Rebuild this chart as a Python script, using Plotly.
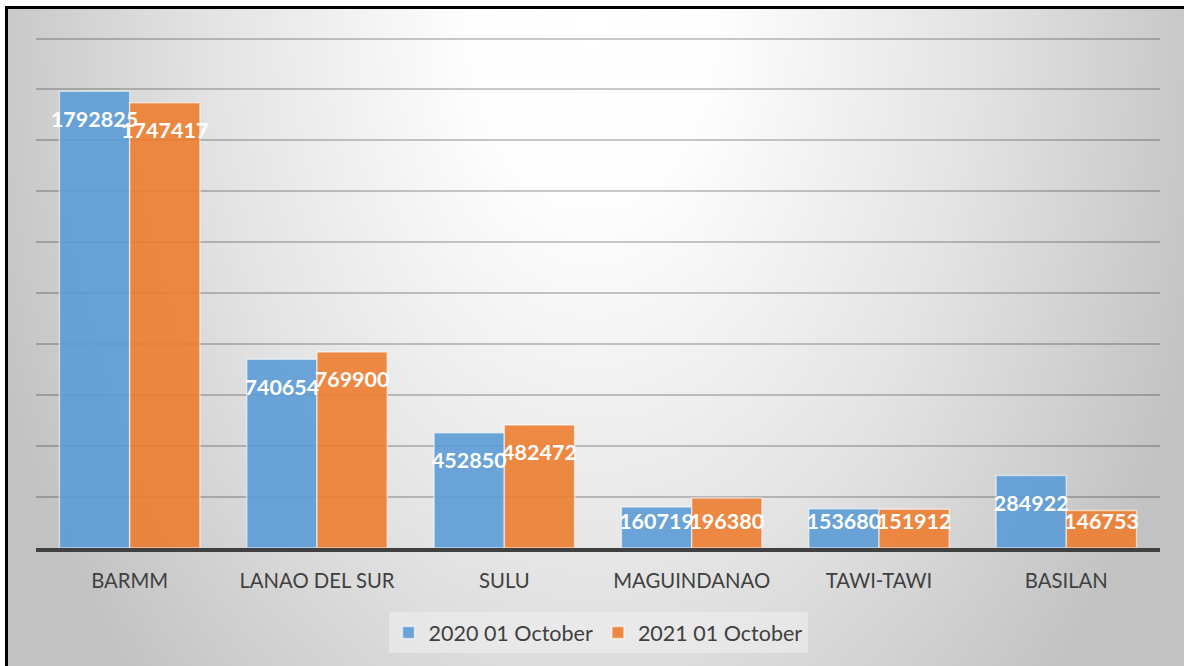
import base64
import plotly.graph_objects as go

# ---- data ----
categories = ["BARMM", "LANAO DEL SUR", "SULU", "MAGUINDANAO", "TAWI-TAWI", "BASILAN"]
series_names = ["2020 01 October", "2021 01 October"]
values_2020 = [1792825, 740654, 452850, 160719, 153680, 284922]
values_2021 = [1747417, 769900, 482472, 196380, 151912, 146753]

# ---- style ----
W, H = 1184, 666
ML, MR, MT, MB = 36, 24, 37, 118
PW, PH = W - ML - MR, H - MT - MB
Y_MAX = 2000000
LABEL_FLOOR = 212000  # keep labels inside short bars
BLUE = "rgba(91,155,213,0.9)"
ORANGE = "rgba(237,125,49,0.9)"
FONT = "Lato"

svg = f'''<svg xmlns="http://www.w3.org/2000/svg" width="{W}" height="{H}" viewBox="0 0 {W} {H}" preserveAspectRatio="none">
<defs><radialGradient id="g" gradientUnits="userSpaceOnUse" cx="592" cy="20" r="640"
 gradientTransform="translate(592 20) scale(1 1.5) translate(-592 -20)">
<stop offset="0" stop-color="#ffffff"/><stop offset="0.2" stop-color="#fdfdfd"/>
<stop offset="0.6" stop-color="#e3e3e3"/><stop offset="1" stop-color="#c2c2c2"/></radialGradient></defs>
<rect x="0" y="0" width="{W}" height="{H}" fill="#ffffff"/>
<rect x="6.5" y="7.5" width="{W + 20}" height="{H + 20}" fill="url(#g)" stroke="#000000" stroke-width="3"/>
</svg>'''
bg_uri = "data:image/svg+xml;base64," + base64.b64encode(svg.encode()).decode()

fig = go.Figure()
for name, vals, col, grp in [(series_names[0], values_2020, BLUE, "a"),
                             (series_names[1], values_2021, ORANGE, "b")]:
    fig.add_trace(go.Bar(
        x=categories, y=vals, name=name, offsetgroup=grp,
        marker=dict(color=col, line=dict(color="rgba(255,255,255,0.55)", width=1.5)),
        hoverinfo="skip",
    ))
for name, vals, grp in [(series_names[0], values_2020, "a"),
                        (series_names[1], values_2021, "b")]:
    fig.add_trace(go.Scatter(
        x=categories, y=[max(v, LABEL_FLOOR) for v in vals], offsetgroup=grp,
        mode="markers+text", text=[str(v) for v in vals], textposition="bottom center",
        marker=dict(size=29, color="rgba(0,0,0,0)"),
        textfont=dict(family=FONT, size=21.5, color="white", weight="bold"),
        showlegend=False, hoverinfo="skip", cliponaxis=False,
    ))

fig.update_layout(
    width=W, height=H,
    margin=dict(l=ML, r=MR, t=MT, b=MB),
    paper_bgcolor="rgba(0,0,0,0)", plot_bgcolor="rgba(0,0,0,0)",
    barmode="group", bargap=0.25, bargroupgap=0,
    scattermode="group", scattergap=0.25,
    font=dict(family=FONT, color="#404040"),
    showlegend=True,
    legend=dict(orientation="h", x=0.5, xanchor="center", y=(PH - (612 - MT)) / PH,
                yanchor="top", bgcolor="rgba(240,240,240,0.55)",
                font=dict(family=FONT, size=21.5, color="#404040"),
                itemwidth=30, traceorder="normal",
                borderwidth=0),
    images=[dict(source=bg_uri, xref="paper", yref="paper",
                 x=-ML / PW, y=1 + MT / PH, sizex=W / PW, sizey=H / PH,
                 xanchor="left", yanchor="top", sizing="stretch", layer="below")],
)
fig.update_xaxes(showline=True, linecolor="#404040", linewidth=4,
                 ticks="outside", ticklen=12, tickcolor="rgba(0,0,0,0)",
                 tickfont=dict(family=FONT, size=20.3, color="#404040"),
                 showgrid=False)
fig.update_yaxes(range=[0, Y_MAX * 1.003], tickvals=list(range(200000, Y_MAX + 1, 200000)),
                 showticklabels=False,
                 showgrid=True, gridcolor="rgba(0,0,0,0.21)", gridwidth=2,
                 zeroline=False)

fig.write_html("out.html", config={"displayModeBar": False},
               post_script="document.body.style.margin='0';")
